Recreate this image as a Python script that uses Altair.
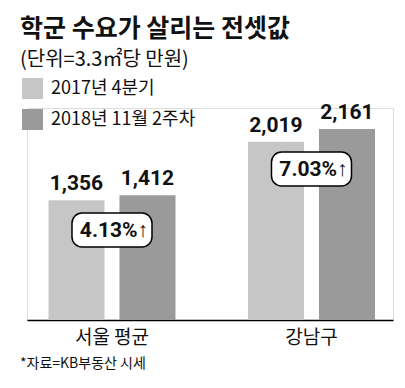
import altair as alt
import pandas as pd

categories = ["서울 평균", "강남구"]
series = ["2017년 4분기", "2018년 11월 2주차"]
values_2017 = [1356, 2019]
values_2018 = [1412, 2161]
pct_labels = ["4.13%↑", "7.03%↑"]
colors = ["#c6c6c6", "#9a9a9a"]

rows = []
for i, c in enumerate(categories):
    rows.append({"category": c, "series": series[0], "value": values_2017[i]})
    rows.append({"category": c, "series": series[1], "value": values_2018[i]})
df = pd.DataFrame(rows)
df["label"] = df["value"].map(lambda v: f"{v:,}")

pct_df = pd.DataFrame({"category": categories, "pct": pct_labels})

KR = "Noto Sans CJK KR"
NUM = "Roboto"

x_enc = alt.X("category:N", sort=categories,
              scale=alt.Scale(domain=categories, paddingInner=0.3634,
                              paddingOuter=0.099, align=0.544),
              axis=alt.Axis(title=None, labelAngle=0, ticks=False, domainColor="#000",
                            domainWidth=1.5, labelFontSize=19, labelFont=KR,
                            labelColor="#111", labelPadding=8))
xo_enc = alt.XOffset("series:N", sort=series,
                     scale=alt.Scale(domain=series, paddingInner=0.211, paddingOuter=0))
y_enc = alt.Y("value:Q", scale=alt.Scale(domain=[0, 2299]), axis=None)

base = alt.Chart(df)

bars = base.mark_bar().encode(
    x=x_enc, xOffset=xo_enc, y=y_enc,
    color=alt.Color("series:N", sort=series,
                    scale=alt.Scale(domain=series, range=colors),
                    legend=alt.Legend(title=None, orient="none", legendX=-5, legendY=-30,
                                      symbolType="square", symbolSize=441,
                                      symbolStrokeWidth=0, symbolOpacity=1,
                                      labelFontSize=18, labelFont=KR, labelColor="#111",
                                      rowPadding=10, labelOffset=8, labelLimit=300,
                                      padding=0)),
)

labels = base.mark_text(baseline="bottom", dy=-6, font=NUM, fontSize=21,
                        fontWeight="bold", color="#111").encode(
    x=alt.X("category:N", sort=categories), xOffset=alt.XOffset("series:N", sort=series),
    y=alt.Y("value:Q"), text="label:N")

pct = alt.Chart(pct_df)
box_pos = {"서울 평균": (105, 139), "강남구": (44, 78)}
boxes = []
for c in categories:
    top, bottom = box_pos[c]
    b = pct.transform_filter(alt.datum.category == c).mark_bar(
        width=80, cornerRadius=10, fill="white", stroke="#000", strokeWidth=1.5).encode(
        x=alt.X("category:N", sort=categories), y=alt.value(top), y2=alt.value(bottom))
    t = pct.transform_filter(alt.datum.category == c).mark_text(
        font=NUM, fontSize=21, fontWeight="bold", color="#111", baseline="middle",
        dx=2).encode(
        x=alt.X("category:N", sort=categories), y=alt.value((top + bottom) / 2 + 1),
        text="pct:N")
    boxes += [b, t]

source = alt.Chart(pd.DataFrame({"t": ["*자료=KB부동산 시세"]})).mark_text(
    align="left", baseline="top", font=KR, fontSize=14, color="#111").encode(
    x=alt.value(-7), y=alt.value(249), text="t:N")

chart = alt.layer(bars, labels, *boxes, source).properties(
    width=366, height=212,
    autosize="none",
    padding={"left": 19, "top": 100, "right": 4, "bottom": 60},
    title=alt.TitleParams(
        text="학군 수요가 살리는 전셋값",
        subtitle="(단위=3.3㎡당 만원)",
        anchor="start", frame="group", dx=-7, offset=8,
        font=KR, fontSize=25, fontWeight="bold", color="#111",
        subtitleFont=KR, subtitleFontSize=20, subtitleColor="#111",
        subtitlePadding=8),
).configure_view(stroke=None).configure(background="white")

chart.save("out.html", embed_options={"renderer": "svg", "actions": False})
